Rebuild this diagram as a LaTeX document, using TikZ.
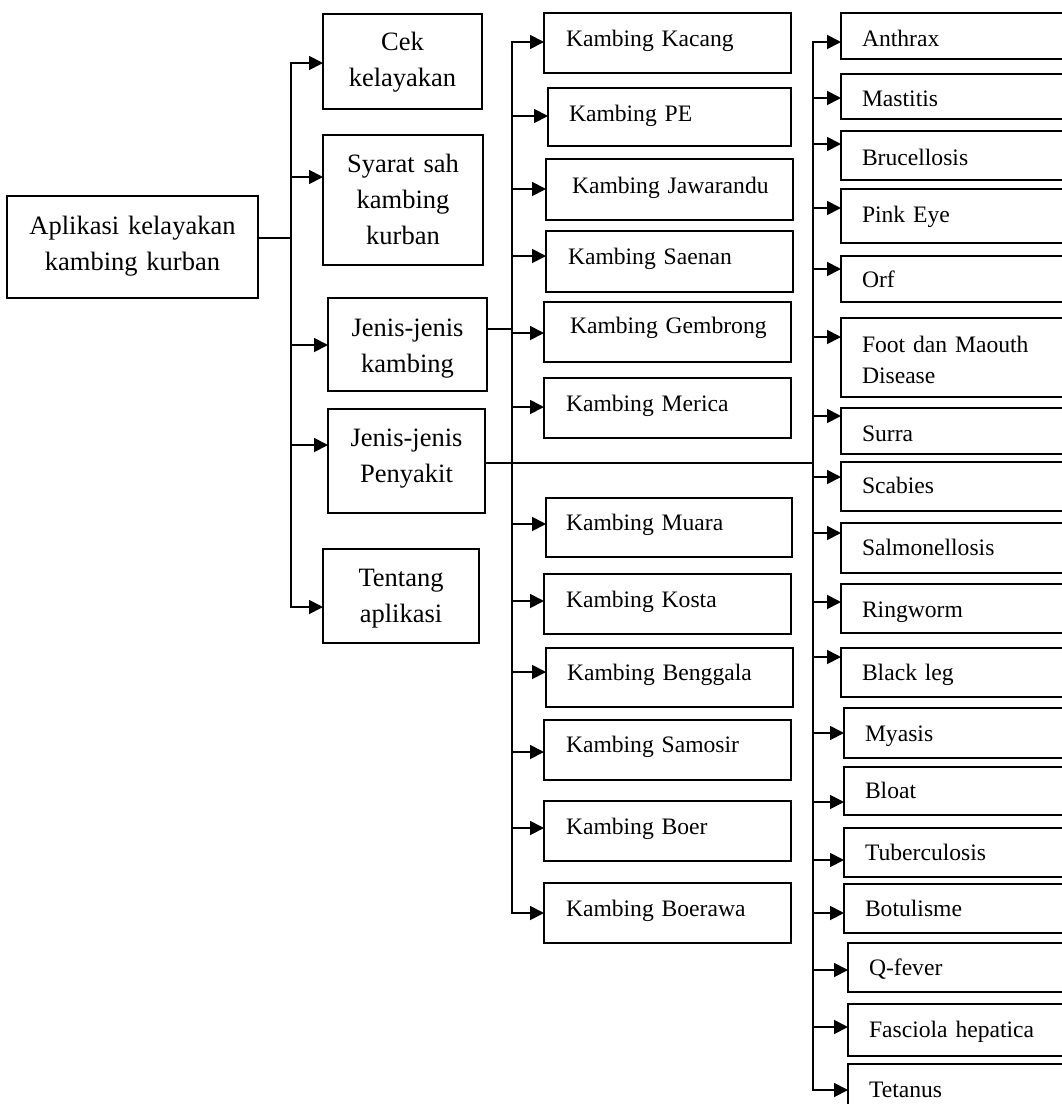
\documentclass[tikz,border=0pt]{standalone}
\usepackage{fontspec}
\setmainfont{Liberation Serif}
\usetikzlibrary{arrows.meta}
\newcommand\myind[1][21]{\hspace*{#1pt}}
\tikzset{
 box/.style={draw, line width=1.8pt, rectangle, anchor=north west, inner sep=0pt, outer sep=0pt},
 bigbox/.style n args={3}{box, font=\fontsize{26.5}{36}\selectfont, align=center, text width=#1pt, text height=#2pt, text depth=#3pt},
 smallbox/.style n args={3}{box, font=\fontsize{23.6}{31}\selectfont, align=left, text width=#1pt, text height=#2pt, text depth=#3pt},
 conn/.style={line width=1.8pt},
 arr/.style={conn, -{Triangle[length=14pt,width=14pt]}},
}
\begin{document}
\begin{tikzpicture}[x=1pt,y=-1pt]
\useasboundingbox (0,0) rectangle (1062,1104);
\clip (0,0) rectangle (1062,1104);
\fill[white] (0,0) rectangle (1062,1104);
% root and level 1
\node[bigbox={251}{38}{64}] (root) at (7,196) {Aplikasi kelayakan\\kambing kurban};
\node[bigbox={159}{36}{59}] (cek) at (323,14) {Cek\\kelayakan};
\node[bigbox={160}{37}{93}] (syarat) at (323,135) {Syarat sah\\kambing\\kurban};
\node[bigbox={159}{38}{55}] (jk) at (328,298) {Jenis-jenis\\kambing};
\node[bigbox={157}{37}{67}] (jp) at (328,409) {Jenis-jenis\\Penyakit};
\node[bigbox={156}{37}{57}] (tentang) at (323,549) {Tentang\\aplikasi};
% level 2: kambing
\node[smallbox={247}{33}{27}] (kacang) at (544,13) {\myind[22]Kambing Kacang};
\node[smallbox={243}{33}{25}] (pe) at (548,88) {\myind[21]Kambing PE};
\node[smallbox={247}{34}{27}] (jawarandu) at (546,159) {\myind[26]Kambing Jawarandu};
\node[smallbox={247}{33}{28}] (saenan) at (546,231) {\myind[22]Kambing Saenan};
\node[smallbox={247}{31}{29}] (gembrong) at (544,302) {\myind[26]Kambing Gembrong};
\node[smallbox={247}{33}{27}] (merica) at (544,378) {\myind[22]Kambing Merica};
\node[smallbox={246}{32}{27}] (muara) at (546,498) {\myind[20]Kambing Muara};
\node[smallbox={247}{33}{27}] (kosta) at (544,574) {\myind[22]Kambing Kosta};
\node[smallbox={247}{32}{27}] (benggala) at (546,648) {\myind[21]Kambing Benggala};
\node[smallbox={247}{32}{28}] (samosir) at (544,720) {\myind[22]Kambing Samosir};
\node[smallbox={247}{33}{27}] (boer) at (544,801) {\myind[22]Kambing Boer};
\node[smallbox={247}{33}{27}] (boerawa) at (544,883) {\myind[22]Kambing Boerawa};
% level 2: penyakit
\node[smallbox={234}{33}{13}] (anthrax) at (841,13) {\myind Anthrax};
\node[smallbox={234}{32}{13}] (mastitis) at (841,74) {\myind Mastitis};
\node[smallbox={234}{34}{15}] (brucellosis) at (841,131) {\myind Brucellosis};
\node[smallbox={234}{33}{21}] (pinkeye) at (841,189) {\myind Pink Eye};
\node[smallbox={234}{31}{15}] (orf) at (841,256) {\myind Orf};
\node[smallbox={234}{34}{45}] (foot) at (841,318) {\myind Foot dan Maouth\\\myind Disease};
\node[smallbox={234}{33}{13}] (surra) at (841,408) {\myind Surra};
\node[smallbox={234}{31}{18}] (scabies) at (841,462) {\myind Scabies};
\node[smallbox={234}{32}{18}] (salmonellosis) at (841,523) {\myind Salmonellosis};
\node[smallbox={234}{33}{16}] (ringworm) at (841,584) {\myind Ringworm};
\node[smallbox={234}{32}{17}] (blackleg) at (841,648) {\myind Black leg};
\node[smallbox={231}{33}{17}] (myasis) at (844,708) {\myind Myasis};
\node[smallbox={231}{31}{17}] (bloat) at (844,767) {\myind Bloat};
\node[smallbox={231}{32}{17}] (tuberculosis) at (844,828) {\myind Tuberculosis};
\node[smallbox={231}{32}{17}] (botulisme) at (844,884) {\myind Botulisme};
\node[smallbox={227}{32}{17}] (qfever) at (848,943) {\myind Q-fever};
\node[smallbox={227}{33}{19}] (fasciola) at (848,1004) {\myind Fasciola hepatica};
\node[smallbox={227}{33}{27}] (tetanus) at (848,1064) {\myind Tetanus};
% trunk 1
\coordinate (t1) at (291,238);
\draw[conn] (root.east |- t1) -- (t1);
\draw[arr] (t1) |- (cek.west |- 0,63);
\draw[arr] (t1) |- (tentang.west |- 0,607);
\draw[arr] (t1 |- 0,177) -- (syarat.west |- 0,177);
\draw[arr] (t1 |- 0,345) -- (jk.west |- 0,345);
\draw[arr] (t1 |- 0,445) -- (jp.west |- 0,445);
% trunk 2
\coordinate (t2) at (512,329);
\draw[conn] (jk.east |- t2) -- (t2);
\draw[arr] (t2) |- (kacang.west |- 0,42);
\draw[arr] (t2) |- (boerawa.west |- 0,913);
\draw[arr] (t2 |- 0,116) -- (pe.west |- 0,116);
\draw[arr] (t2 |- 0,189) -- (jawarandu.west |- 0,189);
\draw[arr] (t2 |- 0,256) -- (saenan.west |- 0,256);
\draw[arr] (t2 |- 0,333) -- (gembrong.west |- 0,333);
\draw[arr] (t2 |- 0,407) -- (merica.west |- 0,407);
\draw[arr] (t2 |- 0,524) -- (muara.west |- 0,524);
\draw[arr] (t2 |- 0,601) -- (kosta.west |- 0,601);
\draw[arr] (t2 |- 0,672) -- (benggala.west |- 0,672);
\draw[arr] (t2 |- 0,752) -- (samosir.west |- 0,752);
\draw[arr] (t2 |- 0,828) -- (boer.west |- 0,828);
% trunk 3
\coordinate (t3) at (813,463);
\draw[conn] (jp.east |- t3) -- (t3);
\draw[arr] (t3) |- (anthrax.west |- 0,42);
\draw[arr] (t3) |- (tetanus.west |- 0,1090);
\draw[arr] (t3 |- 0,98) -- (mastitis.west |- 0,98);
\draw[arr] (t3 |- 0,144) -- (brucellosis.west |- 0,144);
\draw[arr] (t3 |- 0,208) -- (pinkeye.west |- 0,208);
\draw[arr] (t3 |- 0,269) -- (orf.west |- 0,269);
\draw[arr] (t3 |- 0,337) -- (foot.west |- 0,337);
\draw[arr] (t3 |- 0,416) -- (surra.west |- 0,416);
\draw[arr] (t3 |- 0,477) -- (scabies.west |- 0,477);
\draw[arr] (t3 |- 0,533) -- (salmonellosis.west |- 0,533);
\draw[arr] (t3 |- 0,602) -- (ringworm.west |- 0,602);
\draw[arr] (t3 |- 0,657) -- (blackleg.west |- 0,657);
\draw[arr] (t3 |- 0,733) -- (myasis.west |- 0,733);
\draw[arr] (t3 |- 0,802) -- (bloat.west |- 0,802);
\draw[arr] (t3 |- 0,860) -- (tuberculosis.west |- 0,860);
\draw[arr] (t3 |- 0,913) -- (botulisme.west |- 0,913);
\draw[arr] (t3 |- 0,970) -- (qfever.west |- 0,970);
\draw[arr] (t3 |- 0,1027) -- (fasciola.west |- 0,1027);
\end{tikzpicture}
\end{document}
